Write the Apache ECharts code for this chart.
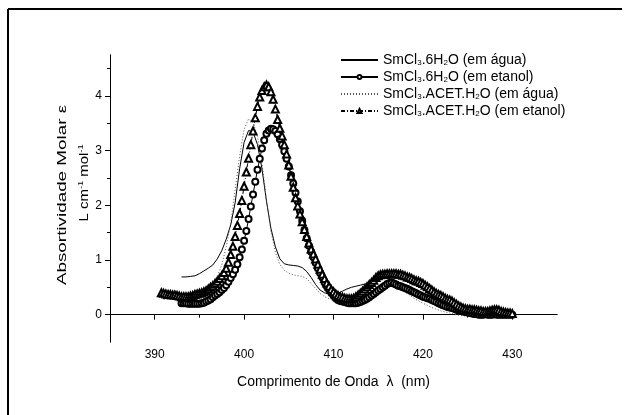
<!DOCTYPE html>
<html>
<head>
<meta charset="utf-8">
<script src="https://cdn.jsdelivr.net/npm/echarts@6/dist/echarts.min.js"></script>
<style>
  html, body { margin: 0; padding: 0; background: #fff; }
  #main { width: 628px; height: 415px; }
</style>
</head>
<body>
<div id="main"></div>
<script>
// series names (legend)
var names = [
  'SmCl3.6H2O (em água)',
  'SmCl3.6H2O (em etanol)',
  'SmCl3.ACET.H2O (em água)',
  'SmCl3.ACET.H2O (em etanol)'
];

// axis ticks
var xMajor = [390, 400, 410, 420, 430];
var xMinor = [395, 405, 415, 425];
var yMajor = [0, 1, 2, 3, 4];
var yMinor = [0.5, 1.5, 2.5, 3.5, 4.5];

// sampling grid of each spectrum: first wavelength (nm) and step (nm)
var aguaStart = 393.0, aguaStep = 0.5;
var etanolStart = 393.0, etanolStep = 0.25;
var acetAguaStart = 391.0, acetAguaStep = 0.5;
var acetEtanolStart = 390.75, acetEtanolStep = 0.25;

// SmCl3.6H2O em água (solid line)
var aguaValues = [
  0.69, 0.69, 0.70, 0.71, 0.75, 0.80, 0.85, 0.91, 1.02, 1.17,
  1.38, 1.64, 2.05, 2.67, 3.15, 3.37, 3.34, 3.11, 2.67, 2.08,
  1.58, 1.24, 1.02, 0.93, 0.91, 0.90, 0.89, 0.86, 0.79, 0.68,
  0.55, 0.45, 0.40, 0.38, 0.38, 0.39, 0.43, 0.47, 0.50, 0.52,
  0.54, 0.56, 0.58, 0.60, 0.63, 0.66, 0.67, 0.64, 0.61, 0.58,
  0.55, 0.52, 0.47, 0.41, 0.36, 0.30, 0.26, 0.23, 0.20, 0.16,
  0.12, 0.08, 0.04, 0.01, 0.03, 0.06, 0.08, 0.09, 0.09, 0.09,
  0.09, 0.08, 0.06, 0.05, 0.04
];

// SmCl3.6H2O em etanol (circles)
var etanolValues = [
  0.21, 0.21, 0.21, 0.20, 0.20, 0.20, 0.20, 0.20, 0.20, 0.21,
  0.22, 0.24, 0.26, 0.28, 0.32, 0.35, 0.38, 0.41, 0.45, 0.49,
  0.54, 0.60, 0.67, 0.74, 0.82, 0.92, 1.05, 1.19, 1.35, 1.53,
  1.75, 1.98, 2.20, 2.43, 2.65, 2.85, 3.04, 3.19, 3.31, 3.37,
  3.40, 3.39, 3.36, 3.30, 3.21, 3.11, 2.99, 2.85, 2.71, 2.55,
  2.40, 2.23, 2.07, 1.89, 1.72, 1.55, 1.40, 1.26, 1.15, 1.05,
  0.95, 0.85, 0.76, 0.68, 0.59, 0.52, 0.46, 0.40, 0.35, 0.30,
  0.27, 0.25, 0.24, 0.23, 0.22, 0.21, 0.21, 0.21, 0.21, 0.22,
  0.23, 0.25, 0.27, 0.29, 0.32, 0.35, 0.38, 0.41, 0.44, 0.47,
  0.50, 0.53, 0.56, 0.58, 0.59, 0.57, 0.55, 0.53, 0.52, 0.50,
  0.49, 0.47, 0.45, 0.43, 0.41, 0.39, 0.37, 0.35, 0.33, 0.32,
  0.30, 0.29, 0.27, 0.25, 0.23, 0.21, 0.19, 0.17, 0.16, 0.14,
  0.13, 0.12, 0.11, 0.09, 0.08, 0.07, 0.06, 0.05, 0.04, 0.03,
  0.02, 0.01, 0.01, 0.00, 0.00, 0.00, 0.01, 0.00, 0.00, 0.00,
  0.01, 0.00, 0.00, 0.00, 0.00, 0.00, 0.00, 0.00, 0.00
];

// SmCl3.ACET.H2O em água (dotted line)
var acetAguaValues = [
  0.28, 0.28, 0.28, 0.28, 0.29, 0.29, 0.30, 0.34, 0.38, 0.42,
  0.48, 0.57, 0.70, 0.91, 1.24, 1.67, 2.29, 2.90, 3.39, 3.58,
  3.52, 3.26, 2.77, 2.10, 1.53, 1.14, 0.92, 0.81, 0.76, 0.73,
  0.71, 0.70, 0.66, 0.57, 0.48, 0.39, 0.33, 0.29, 0.26, 0.24,
  0.24, 0.25, 0.28, 0.32, 0.36, 0.41, 0.46, 0.50, 0.52, 0.54,
  0.54, 0.53, 0.49, 0.45, 0.41, 0.36, 0.30, 0.25, 0.21, 0.17,
  0.13, 0.10, 0.07, 0.05, 0.03, 0.01, -0.01, -0.02, -0.03, -0.03,
  -0.03, -0.02, -0.02, -0.02, -0.02, -0.03, -0.03, -0.03, -0.03
];

// SmCl3.ACET.H2O em etanol (triangles)
var acetEtanolValues = [
  0.40, 0.39, 0.38, 0.37, 0.37, 0.36, 0.36, 0.35, 0.34, 0.33,
  0.33, 0.33, 0.33, 0.34, 0.35, 0.37, 0.38, 0.39, 0.40, 0.42,
  0.44, 0.47, 0.50, 0.53, 0.57, 0.61, 0.66, 0.71, 0.77, 0.85,
  0.96, 1.10, 1.25, 1.43, 1.63, 1.85, 2.09, 2.35, 2.61, 2.86,
  3.11, 3.36, 3.60, 3.81, 3.98, 4.10, 4.17, 4.20, 4.17, 4.08,
  3.94, 3.76, 3.57, 3.41, 3.27, 3.11, 2.94, 2.74, 2.53, 2.33,
  2.14, 1.99, 1.84, 1.70, 1.56, 1.43, 1.31, 1.20, 1.11, 1.02,
  0.92, 0.83, 0.74, 0.66, 0.58, 0.52, 0.46, 0.42, 0.38, 0.35,
  0.33, 0.32, 0.30, 0.29, 0.29, 0.29, 0.30, 0.33, 0.36, 0.39,
  0.43, 0.47, 0.51, 0.55, 0.59, 0.63, 0.68, 0.71, 0.73, 0.74,
  0.74, 0.75, 0.75, 0.75, 0.75, 0.75, 0.74, 0.74, 0.72, 0.71,
  0.69, 0.68, 0.66, 0.64, 0.62, 0.61, 0.59, 0.57, 0.54, 0.51,
  0.48, 0.45, 0.42, 0.39, 0.37, 0.35, 0.33, 0.30, 0.28, 0.27,
  0.25, 0.22, 0.19, 0.16, 0.14, 0.12, 0.11, 0.10, 0.10, 0.09,
  0.09, 0.08, 0.07, 0.07, 0.06, 0.06, 0.06, 0.07, 0.08, 0.09,
  0.09, 0.08, 0.06, 0.05, 0.04, 0.03, 0.03, 0.02
];

function pairs(start, step, values) {
  return values.map(function (v, i) { return [start + i * step, v]; });
}

var legendText = {
  'SmCl3.6H2O (em água)': '{n|SmCl}{s|3}{n|.6H}{s|2}{n|O (em água)}',
  'SmCl3.6H2O (em etanol)': '{n|SmCl}{s|3}{n|.6H}{s|2}{n|O (em etanol)}',
  'SmCl3.ACET.H2O (em água)': '{n|SmCl}{s|3}{n|.ACET.H}{s|2}{n|O (em água)}',
  'SmCl3.ACET.H2O (em etanol)': '{n|SmCl}{s|3}{n|.ACET.H}{s|2}{n|O (em etanol)}'
};

var font = 'Liberation Sans, Arial, sans-serif';
var chart = echarts.init(document.getElementById('main'));

var option = {
  animation: false,
  backgroundColor: '#fff',
  textStyle: { fontFamily: font, color: '#000' },
  grid: { left: 110, right: 71, top: 55, bottom: 73, containLabel: false },
  legend: {
    orient: 'vertical',
    left: 335,
    top: 48,
    itemWidth: 37,
    itemHeight: 5,
    itemGap: 3,
    data: [
      { name: names[0], itemStyle: { opacity: 0 } },
      { name: names[1] },
      { name: names[2], itemStyle: { opacity: 0 } },
      { name: names[3] }
    ],
    formatter: function (name) { return legendText[name]; },
    textStyle: {
      fontFamily: font,
      color: '#000',
      rich: {
        n: { fontSize: 14, fontFamily: font, color: '#000', lineHeight: 14 },
        s: { fontSize: 8, fontFamily: font, color: '#000', lineHeight: 8, verticalAlign: 'bottom' }
      }
    }
  },
  xAxis: [
    {
      type: 'value', min: 385, max: 435, position: 'bottom',
      splitLine: { show: false },
      axisLine: { lineStyle: { color: '#000', width: 1 } },
      axisTick: { customValues: xMajor, length: 5, lineStyle: { color: '#000' } },
      axisLabel: { customValues: xMajor, color: '#000', fontSize: 12, margin: 7, fontFamily: font },
      name: 'Comprimento de Onda  λ  (nm)',
      nameLocation: 'middle',
      nameGap: 33,
      nameTextStyle: { fontSize: 14, color: '#000', fontFamily: font }
    },
    {
      type: 'value', min: 385, max: 435, position: 'bottom', offset: 0,
      splitLine: { show: false },
      axisLine: { lineStyle: { color: '#000', width: 1 } },
      axisTick: { customValues: xMinor, length: 3, lineStyle: { color: '#000' } },
      axisLabel: { show: false }
    }
  ],
  yAxis: [
    {
      type: 'value', min: -0.5, max: 4.75, position: 'left',
      splitLine: { show: false },
      axisLine: { show: true, lineStyle: { color: '#000', width: 1 } },
      axisTick: { show: true, customValues: yMajor, length: 5, lineStyle: { color: '#000' } },
      axisLabel: { customValues: yMajor, color: '#000', fontSize: 12, margin: 8, fontFamily: font }
    },
    {
      type: 'value', min: -0.5, max: 4.75, position: 'left', offset: 0,
      splitLine: { show: false },
      axisLine: { show: true, lineStyle: { color: '#000', width: 1 } },
      axisTick: { show: true, customValues: yMinor, length: 3, lineStyle: { color: '#000' } },
      axisLabel: { show: false }
    }
  ],
  graphic: [
    { type: 'line', shape: { x1: 8, y1: 9, x2: 622, y2: 9 }, style: { stroke: '#000', lineWidth: 2 } },
    { type: 'line', shape: { x1: 8, y1: 9, x2: 8, y2: 415 }, style: { stroke: '#000', lineWidth: 2 } },
    {
      // y title, first line (stretched along its length like the original)
      type: 'text', x: 62, y: 195, rotation: Math.PI / 2, scaleX: 1.45, scaleY: 1,
      style: { text: 'Absortividade Molar ε', font: '13px ' + font, fill: '#000', align: 'center', verticalAlign: 'middle' }
    },
    {
      type: 'text', x: 84, y: 183, rotation: Math.PI / 2, scaleX: 1.15, scaleY: 1,
      style: {
        text: '{n|L cm}{p|-1}{n| mol}{p|-1}',
        align: 'center', verticalAlign: 'middle',
        rich: {
          n: { fontSize: 13, fontFamily: font, fill: '#000', lineHeight: 14 },
          p: { fontSize: 8, fontFamily: font, fill: '#000', lineHeight: 8, verticalAlign: 'top' }
        }
      }
    }
  ],
  series: [
    {
      name: names[0], type: 'line', data: pairs(aguaStart, aguaStep, aguaValues),
      symbol: 'none',
      lineStyle: { color: '#000', width: 1 }, itemStyle: { color: '#000' }
    },
    {
      name: names[1], type: 'line', data: pairs(etanolStart, etanolStep, etanolValues),
      symbol: 'emptyCircle', symbolSize: 6, showAllSymbol: true,
      lineStyle: { color: '#000', width: 1 }, itemStyle: { color: '#000', borderWidth: 0.8 }
    },
    {
      name: names[2], type: 'line', data: pairs(acetAguaStart, acetAguaStep, acetAguaValues),
      symbol: 'none',
      lineStyle: { color: '#555', width: 1, type: [1, 2] }, itemStyle: { color: '#555' }
    },
    {
      name: names[3], type: 'line', data: pairs(acetEtanolStart, acetEtanolStep, acetEtanolValues),
      symbol: 'emptyTriangle', symbolSize: 7, showAllSymbol: true,
      lineStyle: { color: '#000', width: 1, type: [4, 2, 1, 2] }, itemStyle: { color: '#000', borderWidth: 0.7 }
    }
  ]
};

chart.setOption(option);
</script>
</body>
</html>
